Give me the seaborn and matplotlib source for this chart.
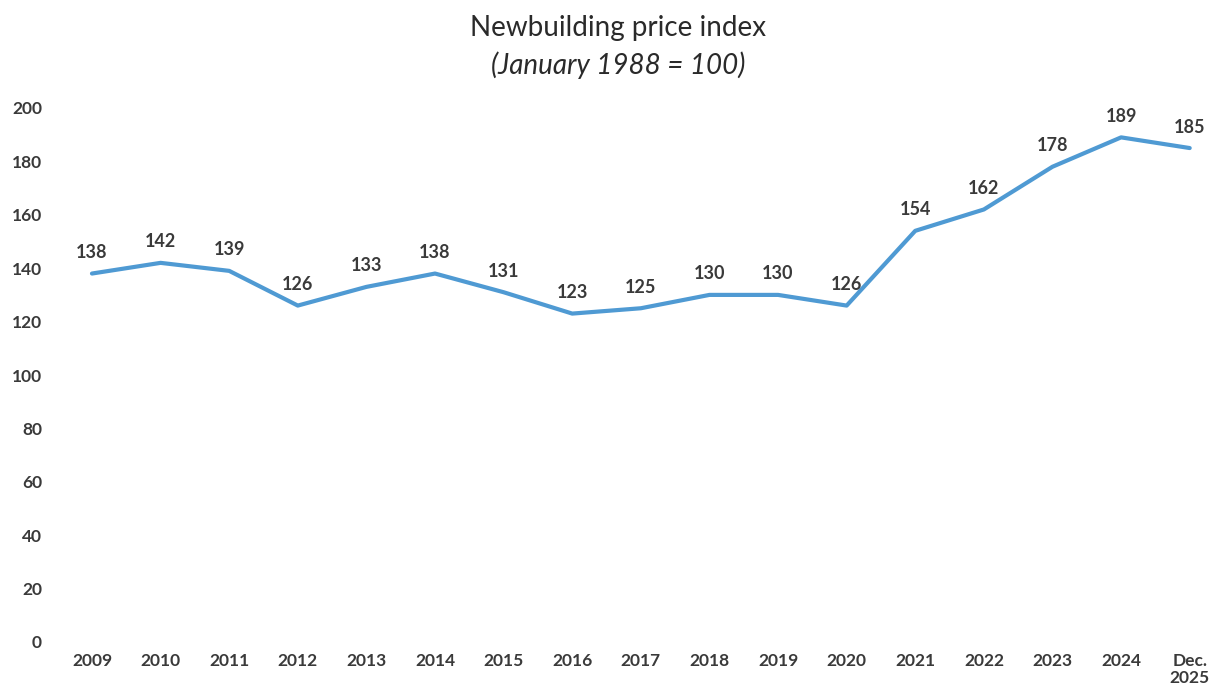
import matplotlib
matplotlib.use("Agg")
import matplotlib.pyplot as plt
import seaborn as sns
import pandas as pd

categories = ["2009", "2010", "2011", "2012", "2013", "2014", "2015", "2016",
              "2017", "2018", "2019", "2020", "2021", "2022", "2023", "2024",
              "Dec.\n2025"]
values = [138, 142, 139, 126, 133, 138, 131, 123, 125, 130, 130, 126,
          154, 162, 178, 189, 185]
yticks = [0, 20, 40, 60, 80, 100, 120, 140, 160, 180, 200]

sns.set_theme(style="white")
plt.rcParams["font.family"] = ["Lato", "DejaVu Sans"]

df = pd.DataFrame({"x": range(len(categories)), "value": values})

fig = plt.figure(figsize=(12.09, 6.9), dpi=100)
ax = fig.add_axes([60 / 1209, 48 / 690, 1140 / 1209, 534 / 690])

sns.lineplot(data=df, x="x", y="value", ax=ax, color="#4F9AD3", linewidth=3.0)

text_color = "#3A3A3A"
for i, v in enumerate(values):
    ax.annotate(f"{v}", (i, v), xytext=(0, 9), textcoords="offset points",
                ha="center", va="bottom", fontsize=13, fontweight="bold",
                color=text_color)

ax.set_xlim(-0.466, 16.15)
ax.set_ylim(0, 200)
ax.set_xticks(range(len(categories)))
ax.set_xticklabels(categories, fontsize=12.5, fontweight="bold", color=text_color,
                   linespacing=1.1)
ax.set_yticks(yticks)
ax.set_yticklabels([str(t) for t in yticks], fontsize=12.5, fontweight="bold",
                   color=text_color)
ax.tick_params(axis="x", length=0, pad=8)
ax.tick_params(axis="y", length=0, pad=13)
ax.set_xlabel("")
ax.set_ylabel("")
for s in ax.spines.values():
    s.set_visible(False)

fig.text(618 / 1209, 1 - 28 / 690, "Newbuilding price index", ha="center", va="center",
         fontsize=20, color="#2A2A2A")
fig.text(618 / 1209, 1 - 65 / 690, "(January 1988 = 100)", ha="center", va="center",
         fontsize=20, style="italic", color="#2A2A2A")

fig.savefig("out.png", dpi=100, facecolor="white")
